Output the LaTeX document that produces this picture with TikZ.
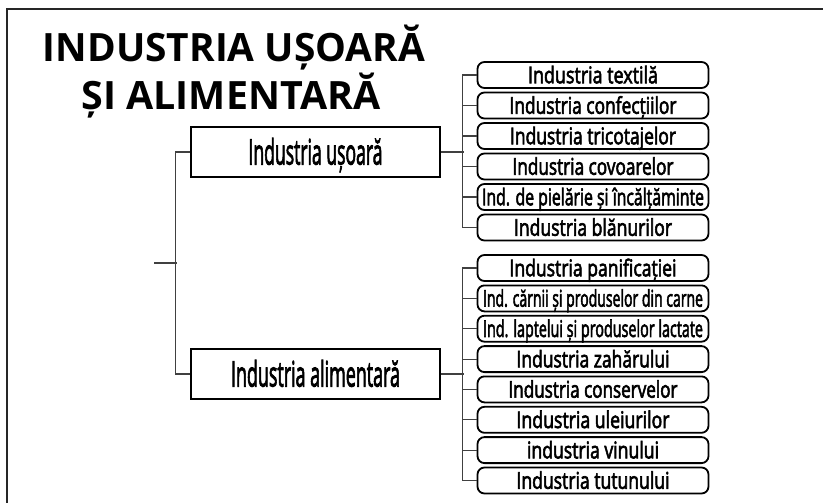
\documentclass[tikz,border=0pt]{standalone}
\usepackage{fontspec}
\usepackage{graphicx}
\setmainfont{Open Sans}
\newfontfamily\condf[FakeBold=3]{Open Sans}
\newcommand\fitw[2]{\resizebox{#1pt}{\height}{#2}}
\begin{document}
\begin{tikzpicture}[x=1pt,y=-1pt,
  framel/.style={line width=1.8pt, black!85},
  conn/.style={line width=1.1pt, black!75},
  mainbox/.style={draw, line width=2.4pt, rectangle, minimum width=249pt, minimum height=50pt, inner sep=0pt, text height=25pt, text depth=0pt, font=\condf\fontsize{35}{35}\selectfont},
  subbox/.style={draw, line width=1.8pt, rounded corners=7pt, minimum width=231pt, minimum height=26pt, inner sep=0pt, text height=16.5pt, text depth=0pt, font=\condf\fontsize{23}{23}\selectfont},
  titlet/.style={anchor=base, inner sep=0pt, font=\fontsize{39}{39}\selectfont\bfseries}]
\useasboundingbox (0,0) rectangle (823,503);
% frame
\coordinate (fbl) at (7,503);
\coordinate (ftl) at (7,9);
\coordinate (ftr) at (823,9);
\draw[framel] (fbl) -- (ftl) -- (ftr);
% title
\node[titlet] (t1) at (234,62) {\fitw{382}{INDUSTRIA UȘOARĂ}};
\node[titlet] (t2) at (231,110) {\fitw{299}{ȘI ALIMENTARĂ}};
% main boxes
\node[mainbox] (light) at (315.5,152) {\fitw{134}{Industria ușoară}};
\node[mainbox] (food) at (315.5,374) {\fitw{169}{Industria alimentară}};
% light industry
\node[subbox] (l1) at (593,75)    {\fitw{130}{Industria textilă}};
\node[subbox] (l2) at (593,105.5) {\fitw{167}{Industria confecțiilor}};
\node[subbox] (l3) at (593,136)   {\fitw{166}{Industria tricotajelor}};
\node[subbox] (l4) at (593,166.5) {\fitw{161}{Industria covoarelor}};
\node[subbox] (l5) at (593,197)   {\fitw{222}{Ind. de pielărie și încălțăminte}};
\node[subbox] (l6) at (593,227.5) {\fitw{158}{Industria blănurilor}};
% food industry
\node[subbox] (f1) at (593,268)   {\fitw{167}{Industria panificației}};
\node[subbox] (f2) at (593,298.4) {\fitw{220}{Ind. cărnii și produselor din carne}};
\node[subbox] (f3) at (593,328.7) {\fitw{220}{Ind. laptelui și produselor lactate}};
\node[subbox] (f4) at (593,359.1) {\fitw{153}{Industria zahărului}};
\node[subbox] (f5) at (593,389.4) {\fitw{169}{Industria conservelor}};
\node[subbox] (f6) at (593,419.8) {\fitw{153}{Industria uleiurilor}};
\node[subbox] (f7) at (593,450.1) {\fitw{132}{industria vinului}};
\node[subbox] (f8) at (593,480.5) {\fitw{153}{Industria tutunului}};
% left connectors
\coordinate (root) at (154,263);
\coordinate (spine) at (177,263);
\draw[conn] (root) -- (spine);
\draw[conn] (light.west) -- ++(-14,0) |- (food.west);
% right connectors, light
\draw[conn] (light.east) -- ++(23,0);
\draw[conn] (l1.west) -- ++(-14.5,0) |- (l6.west);
\foreach \n in {l2,l3,l4,l5} \draw[conn] (\n.west) -- ++(-14.5,0);
% right connectors, food
\draw[conn] (food.east) -- ++(23,0);
\draw[conn] (f1.west) -- ++(-14.5,0) |- (f8.west);
\foreach \n in {f2,f3,f4,f5,f6,f7} \draw[conn] (\n.west) -- ++(-14.5,0);
\end{tikzpicture}
\end{document}
